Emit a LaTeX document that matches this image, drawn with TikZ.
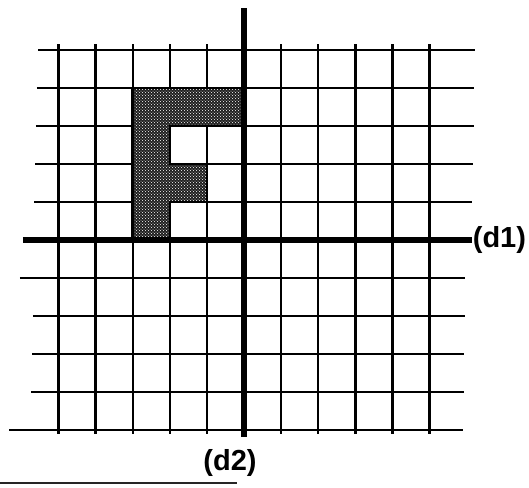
\documentclass[tikz,border=0pt]{standalone}
\usepackage{fontspec}
\usepackage{tikz}
\usetikzlibrary{positioning,patterns}
\newfontfamily\axisfont{Liberation Sans}

\begin{document}
\begin{tikzpicture}[
  x=37.1pt, y=38pt,
  gridline/.style={line width=2.4pt, black},
  axis/.style={line width=6pt, black},
  letterF/.style={draw=black, line width=2.6pt, line join=miter,
                  preaction={fill=black!88}, pattern=crosshatch dots,
                  pattern color=white},
  axislabel/.style={font=\axisfont\bfseries\fontsize{29}{31}\selectfont,
                    inner sep=0.5pt}
]
\useasboundingbox (-6.577,-6.5) rectangle (7.682,6.316);
% Vertical grid lines
\foreach \x in {-5,...,-1,1,2,...,5}
  \draw[gridline] (\x,5.15) -- (\x,-5.1);
% Horizontal grid lines (row / left end / right end)
\foreach \y/\l/\r in {5/-5.55/6.23, 4/-5.58/6.2, 3/-5.61/6.2, 2/-5.63/6.17,
                      1/-5.66/6.15, -1/-6.04/5.96, -2/-5.69/5.96,
                      -3/-5.71/5.93, -4/-5.74/5.93, -5/-6.33/5.9}
  \draw[gridline] (\l,\y) -- (\r,\y);
% Shaded letter F
\path[letterF] (-3,0) -- (-3,4) -- (0,4) -- (0,3) -- (-2,3) -- (-2,2)
  -- (-1,2) -- (-1,1) -- (-2,1) -- (-2,0) -- cycle;
% Axes
\coordinate (d1w) at (-5.96,0);
\coordinate (d1e) at (6.15,0);
\coordinate (d2n) at (0,6.1);
\coordinate (d2s) at (0,-5.18);
\draw[axis] (d1w) -- (d1e);
\draw[axis] (d2n) -- (d2s);
% Axis labels
\node[axislabel, anchor=west] (d1) at (d1e) {(d1)};
\node[axislabel, below=12pt of d2s, xshift=-14pt] (d2) {(d2)};
% Rule at the foot of the page
\coordinate (rulew) at (-6.577,-6.39);
\coordinate (rulee) at (-0.19,-6.39);
\draw[line width=2pt, black!85] (rulew) -- (rulee);
\end{tikzpicture}
\end{document}
